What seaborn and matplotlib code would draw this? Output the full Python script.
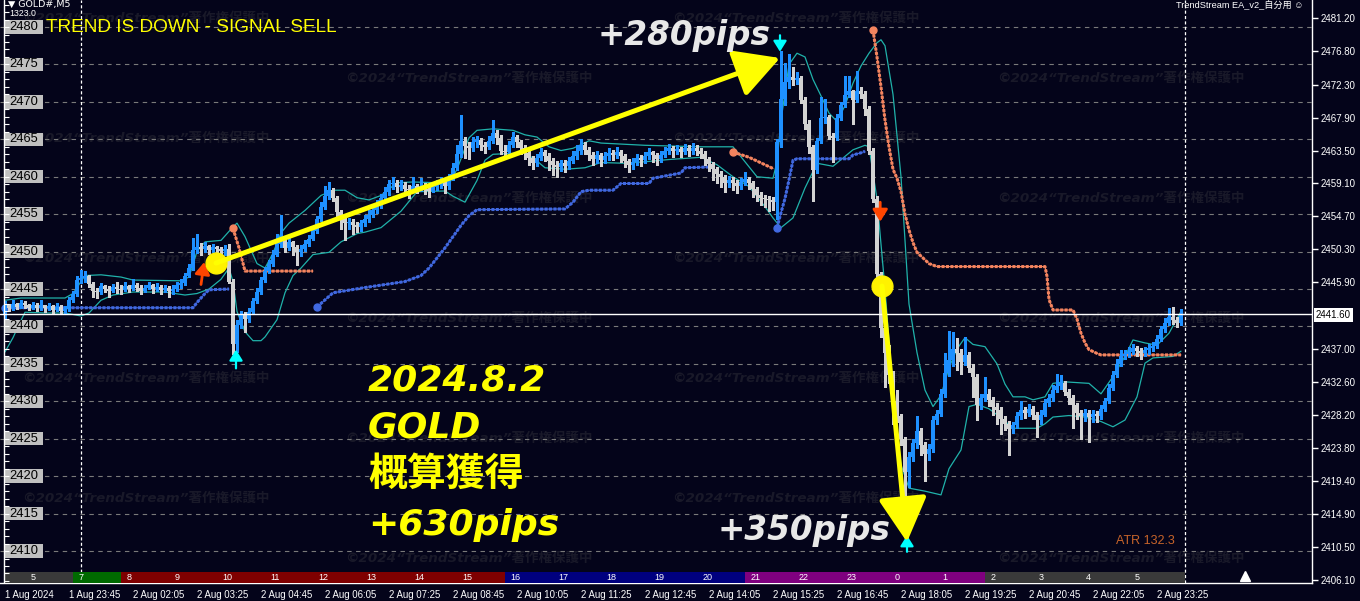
# MT4-style GOLD M5 chart with TrendStream signals
import numpy as np
import pandas as pd
import matplotlib
matplotlib.use("Agg")
import matplotlib.pyplot as plt
import matplotlib.transforms as mtransforms
from matplotlib.patches import Rectangle
import seaborn as sns

sns.set_style("dark")
plt.rcParams["font.family"] = ["DejaVu Sans", "Noto Sans CJK JP"]

BG = "#04041a"
BLUE = "#1e90ff"
GREY = "#d3d3d3"
TEAL = "#20b2aa"
ROYAL = "#4169e1"
SALMON = "#f4845f"
YELLOW = "#ffff00"
CJK = ["Noto Sans CJK JP", "DejaVu Sans"]
LIB = ["Liberation Sans", "Noto Sans CJK JP", "DejaVu Sans"]

# ---- candle data (5 min bars) ----
first_open = 2441.6
closes = [
    2442.8, 2442.4, 2443.0, 2442.6, 2443.1, 2442.8, 2442.5, 2442.9, 2442.4, 2442.8,
    2442.4, 2442.7, 2442.2, 2442.6, 2442.1, 2442.3, 2443.6, 2444.3, 2446.2, 2446.5,
    2446.8, 2445.7, 2444.8, 2444.6, 2445.4, 2445.0, 2444.8, 2445.3, 2445.0, 2444.9,
    2445.4, 2445.0, 2445.6, 2445.2, 2444.8, 2445.2, 2445.6, 2445.0, 2445.3, 2444.9,
    2445.1, 2444.8, 2445.0, 2445.5, 2445.8, 2446.8, 2447.8, 2450.2, 2450.6, 2450.3,
    2450.7, 2450.2, 2450.6, 2450.3, 2450.1, 2450.4, 2446.0, 2437.6, 2440.2, 2441.6,
    2441.0, 2441.9, 2443.4, 2444.6, 2446.2, 2447.4, 2448.4, 2449.6, 2451.0, 2451.4,
    2450.5, 2451.3, 2450.6, 2449.9, 2450.4, 2451.0, 2451.7, 2452.7, 2454.3, 2456.0,
    2457.4, 2458.2, 2457.2, 2455.3, 2454.4, 2453.8, 2454.0, 2453.6, 2453.3, 2453.8,
    2454.4, 2454.9, 2455.5, 2456.2, 2457.1, 2458.0, 2459.0, 2459.2, 2458.6, 2458.9,
    2458.4, 2458.2, 2458.7, 2458.3, 2458.8, 2458.4, 2458.1, 2458.6, 2458.9, 2459.2,
    2458.7, 2459.8, 2461.2, 2463.0, 2464.8, 2464.1, 2463.8, 2464.6, 2464.9, 2464.2,
    2464.0, 2464.8, 2465.8, 2465.2, 2463.5, 2463.3, 2464.3, 2465.3, 2464.6, 2463.8,
    2463.2, 2462.5, 2461.9, 2462.5, 2463.3, 2462.8, 2462.1, 2461.6, 2461.3, 2461.8,
    2461.5, 2462.1, 2462.8, 2463.5, 2464.2, 2463.6, 2462.9, 2462.4, 2462.9, 2462.3,
    2462.8, 2463.2, 2462.9, 2463.3, 2462.8, 2462.1, 2461.6, 2462.0, 2462.5, 2462.2,
    2462.8, 2463.3, 2462.9, 2462.4, 2462.9, 2463.4, 2463.8, 2463.4, 2463.7, 2463.3,
    2463.8, 2463.4, 2463.9, 2463.5, 2463.1, 2462.4, 2461.7, 2461.0, 2460.4, 2459.9,
    2459.2, 2459.6, 2459.1, 2458.8, 2459.3, 2459.7, 2459.2, 2458.3, 2457.6, 2457.1,
    2457.0, 2456.9, 2456.6, 2464.6, 2470.4, 2472.6, 2473.3, 2472.9, 2473.2, 2470.2,
    2467.1, 2464.0, 2460.9, 2464.8, 2467.8, 2468.0, 2465.4, 2465.2, 2467.9, 2469.6,
    2470.9, 2471.4, 2470.2, 2471.5, 2471.1, 2469.0, 2463.5, 2457.0, 2447.0, 2439.8,
    2436.4, 2433.5, 2430.0, 2428.0, 2425.0, 2420.5, 2422.6, 2424.4, 2426.0, 2424.2,
    2423.0, 2423.6, 2427.5, 2428.3, 2431.0, 2433.8, 2435.5, 2437.0, 2436.5, 2435.3,
    2436.2, 2434.5, 2433.2, 2429.5, 2430.4, 2431.0, 2430.2, 2429.3, 2428.8, 2427.6,
    2427.0, 2426.3, 2426.8, 2428.0, 2428.8, 2428.4, 2429.0, 2428.2, 2427.5, 2428.2,
    2429.8, 2430.4, 2431.5, 2432.0, 2432.4, 2431.3, 2430.4, 2429.5, 2428.4, 2428.0,
    2428.4, 2427.9, 2428.3, 2428.0, 2429.0, 2430.0, 2431.8, 2433.5, 2435.0, 2436.0,
    2436.3, 2436.6, 2437.1, 2436.7, 2436.4, 2436.8, 2437.1, 2437.4, 2438.3, 2439.6,
    2440.5, 2441.2, 2440.8, 2440.5, 2441.6,
]
highs = [
    2443.4, 2443.0, 2443.6, 2443.2, 2443.5, 2443.4, 2443.0, 2443.3, 2443.1, 2443.6,
    2442.9, 2443.1, 2442.9, 2443.2, 2442.8, 2442.7, 2444.0, 2444.8, 2446.8, 2447.6,
    2447.4, 2446.9, 2445.9, 2445.2, 2445.8, 2445.6, 2445.4, 2445.7, 2445.9, 2445.5,
    2445.9, 2445.6, 2446.3, 2445.8, 2445.5, 2445.6, 2446.0, 2445.7, 2445.8, 2445.6,
    2445.6, 2445.4, 2445.5, 2445.9, 2446.3, 2447.2, 2448.3, 2451.8, 2452.4, 2451.2,
    2451.3, 2450.9, 2451.0, 2450.8, 2450.6, 2450.9, 2451.0, 2446.3, 2440.8, 2442.0,
    2441.9, 2442.4, 2443.8, 2445.1, 2446.6, 2447.9, 2448.9, 2450.2, 2452.4, 2454.9,
    2451.8, 2451.9, 2451.4, 2450.9, 2450.9, 2451.5, 2452.2, 2453.2, 2454.8, 2456.6,
    2458.8, 2459.3, 2458.5, 2457.4, 2455.6, 2454.6, 2454.5, 2454.3, 2454.0, 2454.2,
    2454.9, 2455.6, 2456.1, 2456.9, 2457.7, 2458.6, 2459.6, 2460.0, 2459.5, 2459.6,
    2459.3, 2458.9, 2459.9, 2459.0, 2459.8, 2459.1, 2458.8, 2459.2, 2459.5, 2459.9,
    2459.6, 2460.4, 2461.8, 2464.2, 2468.2, 2465.3, 2464.6, 2465.3, 2465.4, 2465.2,
    2464.7, 2465.4, 2467.6, 2466.3, 2465.6, 2464.2, 2464.8, 2466.0, 2465.6, 2464.9,
    2464.3, 2463.4, 2462.8, 2463.0, 2463.8, 2463.6, 2463.2, 2462.5, 2462.1, 2462.3,
    2462.2, 2462.6, 2463.4, 2464.3, 2465.0, 2464.6, 2464.0, 2463.3, 2463.4, 2463.2,
    2463.3, 2463.8, 2463.6, 2464.0, 2463.6, 2463.0, 2462.4, 2462.5, 2463.0, 2462.9,
    2463.3, 2463.8, 2463.5, 2463.2, 2463.5, 2464.0, 2464.4, 2464.1, 2464.3, 2464.0,
    2464.4, 2464.2, 2464.5, 2464.2, 2463.9, 2463.4, 2462.6, 2462.0, 2461.3, 2460.8,
    2460.2, 2460.1, 2459.9, 2459.6, 2459.8, 2460.6, 2460.0, 2459.4, 2458.6, 2458.0,
    2457.5, 2457.4, 2457.3, 2465.0, 2476.8, 2475.2, 2476.4, 2474.6, 2474.0, 2473.4,
    2470.6, 2467.6, 2464.3, 2465.2, 2470.7, 2470.4, 2468.2, 2465.9, 2468.4, 2470.0,
    2473.4, 2473.4, 2471.6, 2474.1, 2472.0, 2471.5, 2469.4, 2463.8, 2457.4, 2447.3,
    2440.5, 2437.5, 2434.0, 2431.5, 2428.3, 2425.3, 2423.2, 2425.0, 2428.0, 2426.4,
    2424.6, 2424.3, 2428.0, 2428.9, 2431.6, 2436.5, 2439.4, 2439.2, 2438.5, 2437.0,
    2438.6, 2436.6, 2435.0, 2433.6, 2431.0, 2433.2, 2431.6, 2430.6, 2429.8, 2429.2,
    2428.1, 2427.4, 2427.3, 2428.6, 2430.0, 2429.3, 2429.6, 2429.4, 2428.6, 2428.8,
    2430.3, 2431.0, 2432.2, 2433.6, 2433.5, 2432.7, 2431.7, 2430.9, 2429.8, 2428.9,
    2429.0, 2428.8, 2428.9, 2428.7, 2429.5, 2430.5, 2432.3, 2434.0, 2435.6, 2436.8,
    2436.9, 2437.2, 2437.6, 2437.4, 2437.1, 2437.3, 2437.6, 2437.9, 2438.8, 2440.1,
    2441.1, 2442.4, 2442.6, 2441.3, 2442.3,
]
lows = [
    2440.9, 2442.0, 2442.2, 2442.3, 2442.4, 2442.5, 2442.2, 2442.3, 2442.1, 2442.2,
    2441.9, 2442.2, 2441.8, 2442.0, 2441.6, 2441.8, 2442.1, 2443.3, 2444.1, 2445.8,
    2446.0, 2445.3, 2443.9, 2443.8, 2444.4, 2444.6, 2444.0, 2444.6, 2444.5, 2444.3,
    2444.7, 2444.6, 2444.9, 2444.8, 2444.3, 2444.6, 2445.0, 2444.5, 2444.7, 2444.4,
    2444.6, 2444.0, 2444.4, 2444.8, 2445.2, 2445.6, 2446.6, 2447.5, 2449.8, 2449.6,
    2450.0, 2449.7, 2449.9, 2449.8, 2449.6, 2449.5, 2445.8, 2436.3, 2436.6, 2439.8,
    2439.2, 2440.6, 2441.6, 2443.2, 2444.3, 2446.0, 2447.2, 2448.1, 2449.4, 2450.6,
    2450.0, 2450.2, 2449.6, 2448.2, 2449.4, 2450.1, 2450.8, 2451.5, 2452.5, 2454.1,
    2455.7, 2457.0, 2456.8, 2454.8, 2453.0, 2451.5, 2453.0, 2452.3, 2452.6, 2452.8,
    2453.4, 2454.0, 2454.6, 2455.1, 2455.8, 2456.7, 2457.6, 2458.4, 2458.0, 2458.2,
    2457.6, 2457.2, 2458.0, 2457.8, 2458.1, 2457.7, 2457.3, 2457.9, 2458.2, 2458.5,
    2457.8, 2458.4, 2459.6, 2460.9, 2462.6, 2462.5, 2462.4, 2463.4, 2464.0, 2463.6,
    2463.2, 2463.7, 2464.5, 2464.4, 2463.0, 2462.6, 2463.0, 2464.0, 2464.0, 2463.0,
    2462.4, 2461.6, 2461.0, 2461.4, 2462.2, 2462.1, 2460.9, 2460.2, 2459.9, 2460.8,
    2460.6, 2461.0, 2461.8, 2462.4, 2463.1, 2463.0, 2462.3, 2461.6, 2461.9, 2461.5,
    2461.8, 2462.3, 2462.2, 2462.5, 2462.0, 2461.3, 2460.7, 2461.0, 2461.6, 2461.4,
    2461.8, 2462.4, 2462.0, 2461.6, 2462.0, 2462.6, 2463.0, 2462.7, 2463.0, 2462.7,
    2463.0, 2462.8, 2463.1, 2462.9, 2462.5, 2461.6, 2460.8, 2459.6, 2459.2, 2458.6,
    2458.0, 2458.6, 2458.2, 2457.8, 2458.3, 2458.9, 2458.4, 2457.3, 2456.8, 2456.2,
    2455.9, 2455.4, 2455.6, 2454.3, 2464.0, 2469.6, 2471.8, 2472.2, 2472.4, 2469.8,
    2466.4, 2463.2, 2456.8, 2460.5, 2464.5, 2467.2, 2465.0, 2462.0, 2464.9, 2467.6,
    2469.3, 2470.6, 2467.0, 2470.0, 2470.5, 2468.3, 2463.0, 2456.6, 2446.5, 2438.6,
    2431.9, 2432.5, 2427.0, 2427.3, 2424.2, 2415.5, 2418.6, 2422.0, 2423.8, 2422.8,
    2419.4, 2422.2, 2423.2, 2427.0, 2428.0, 2430.6, 2433.4, 2434.7, 2434.2, 2433.6,
    2434.8, 2433.9, 2430.6, 2427.5, 2429.0, 2430.1, 2429.4, 2428.2, 2427.0, 2425.6,
    2426.2, 2422.8, 2425.8, 2426.5, 2427.6, 2427.8, 2428.0, 2427.6, 2425.3, 2427.0,
    2428.0, 2429.4, 2430.1, 2431.2, 2431.6, 2430.8, 2429.7, 2426.5, 2427.7, 2425.0,
    2427.4, 2424.6, 2427.3, 2427.2, 2427.7, 2428.7, 2429.8, 2431.5, 2433.2, 2434.7,
    2435.6, 2435.9, 2436.3, 2436.0, 2435.7, 2436.0, 2436.3, 2436.7, 2437.1, 2438.0,
    2439.3, 2440.2, 2440.3, 2439.9, 2440.2,
]

# ---- indicator lines: (bar, price) vertices ----
upper_band = [
    (0, 2443.5), (4, 2443.8), (15, 2443.8), (17, 2444.4), (20, 2446.8), (24, 2446.9),
    (29, 2446.6), (32, 2446.2), (44, 2446.1), (46, 2446.6), (48, 2450.0), (50, 2451.3),
    (54, 2451.5), (57, 2453.3), (58, 2453.8), (60, 2452.0), (63, 2448.4), (65, 2447.8),
    (67, 2449.8), (69, 2452.5), (71, 2453.8), (75, 2455.5), (79, 2457.5), (82, 2458.2),
    (85, 2458.2), (88, 2457.2), (91, 2456.9), (94, 2457.5), (98, 2459.2), (102, 2459.3),
    (108, 2459.2), (111, 2459.0), (113, 2461.0), (116, 2465.2), (118, 2466.2), (122, 2466.4),
    (127, 2466.2), (130, 2465.6), (133, 2465.3), (136, 2464.0), (139, 2463.5), (142, 2463.8),
    (146, 2464.8), (149, 2464.5), (160, 2464.2), (174, 2464.0), (182, 2464.0), (185, 2462.0),
    (188, 2460.0), (192, 2459.8), (193, 2462.0), (194, 2467.5), (196, 2475.0), (198, 2476.5),
    (200, 2476.0), (202, 2473.0), (204, 2470.8), (206, 2468.5), (208, 2467.4), (210, 2469.5),
    (212, 2472.5), (214, 2474.8), (216, 2476.5), (218, 2477.9), (219, 2478.3), (220, 2477.5),
    (222, 2471.0), (224, 2460.0), (226, 2443.0), (228, 2436.5), (230, 2431.5), (232, 2429.3),
    (234, 2430.8), (236, 2434.5), (238, 2437.0), (240, 2438.5), (242, 2437.6), (245, 2437.3),
    (248, 2435.0), (250, 2432.3), (252, 2430.6), (255, 2430.6), (257, 2430.2), (260, 2430.6),
    (262, 2432.4), (265, 2432.6), (271, 2432.4), (274, 2431.0), (277, 2433.3), (280, 2436.0),
    (282, 2438.2), (285, 2437.8), (288, 2437.5), (291, 2439.1), (294, 2442.0),
]
lower_band = [
    (0, 2436.6), (2, 2438.5), (4, 2440.8), (5, 2441.9), (10, 2441.8), (15, 2441.8),
    (19, 2441.4), (21, 2441.8), (24, 2443.5), (27, 2444.2), (32, 2444.6), (40, 2444.6),
    (45, 2444.2), (48, 2444.4), (51, 2445.0), (54, 2446.3), (56, 2447.8), (57, 2446.0),
    (58, 2442.0), (60, 2439.3), (62, 2438.1), (64, 2438.1), (65, 2438.6), (68, 2440.9),
    (70, 2444.5), (72, 2446.8), (74, 2447.8), (77, 2449.6), (81, 2449.9), (84, 2451.3),
    (88, 2452.4), (90, 2452.6), (94, 2453.2), (99, 2455.4), (103, 2458.0), (110, 2458.1),
    (112, 2457.4), (115, 2456.6), (118, 2459.5), (120, 2462.2), (122, 2463.0), (130, 2463.2),
    (133, 2462.1), (135, 2461.2), (140, 2461.0), (145, 2461.2), (149, 2461.9), (155, 2461.8),
    (160, 2462.0), (166, 2462.3), (174, 2462.6), (178, 2461.6), (182, 2460.0), (186, 2458.7),
    (190, 2456.0), (192, 2454.5), (194, 2453.2), (197, 2454.5), (200, 2458.5), (203, 2461.8),
    (207, 2461.4), (212, 2463.6), (215, 2464.2), (216, 2464.0), (218, 2457.0), (220, 2445.0),
    (222, 2431.0), (224, 2421.5), (226, 2418.4), (230, 2418.0), (234, 2417.5), (236, 2421.0),
    (239, 2423.5), (241, 2429.3), (243, 2429.6), (246, 2429.0), (249, 2427.8), (252, 2426.4),
    (258, 2426.4), (260, 2427.0), (262, 2427.9), (266, 2428.1), (270, 2427.9), (274, 2427.3),
    (277, 2426.6), (280, 2427.5), (283, 2430.6), (285, 2435.1), (287, 2435.8), (292, 2436.0),
    (294, 2436.7),
]
blue_stops = [
    [(0, 2442.5), (47, 2442.5), (48, 2443.2), (50, 2444.4), (51, 2444.9), (56, 2445.0)],
    [(78, 2442.6), (82, 2444.5), (90, 2445.2), (100, 2446.0), (104, 2446.8), (106, 2447.8),
     (110, 2450.5), (114, 2453.5), (116, 2454.8), (118, 2455.6), (140, 2455.7), (142, 2456.6),
     (144, 2458.0), (146, 2458.2), (152, 2458.2), (154, 2459.1), (161, 2459.1), (162, 2459.8),
     (169, 2460.5), (170, 2461.2), (176, 2461.3)],
    [(193, 2453.2), (194, 2455.2), (195, 2457.1), (196, 2459.6), (197, 2462.2), (198, 2462.4),
     (211, 2462.4), (212, 2462.9), (214, 2463.2), (215, 2463.4)],
]
salmon_stops = [
    [(57, 2453.1), (58.5, 2450.5), (60, 2447.4), (77, 2447.4)],
    [(182, 2463.3), (186, 2462.6), (190, 2461.6), (192, 2461.1)],
    [(217, 2479.6), (218, 2476.0), (219, 2472.0), (220, 2467.6), (221, 2464.0), (222, 2461.0),
     (223, 2459.8), (224, 2458.0), (225, 2455.0), (226, 2452.9), (227, 2451.2), (228, 2449.9),
     (230, 2448.9), (231, 2448.4), (233, 2448.0), (260, 2448.0), (260.5, 2446.7), (261, 2443.6),
     (262, 2442.2), (267, 2442.2), (268, 2441.0), (269, 2439.1), (270, 2437.8), (271, 2436.9),
     (273, 2436.4), (274, 2436.2), (294, 2436.2)],
]

# ---- axis texts ----
time_ticks = list(range(0, 289, 16))
time_labels = ["1 Aug 2024", "1 Aug 23:45", "2 Aug 02:05", "2 Aug 03:25", "2 Aug 04:45",
               "2 Aug 06:05", "2 Aug 07:25", "2 Aug 08:45", "2 Aug 10:05", "2 Aug 11:25",
               "2 Aug 12:45", "2 Aug 14:05", "2 Aug 15:25", "2 Aug 16:45", "2 Aug 18:05",
               "2 Aug 19:25", "2 Aug 20:45", "2 Aug 22:05", "2 Aug 23:25"]
hour_labels = ["5", "7", "8", "9", "10", "11", "12", "13", "14", "15", "16", "17", "18",
               "19", "20", "21", "22", "23", "0", "1", "2", "3", "4", "5"]
hour_edges = [-0.1, 17, 29, 41, 53, 65, 77, 89, 101, 113, 125, 137, 149, 161, 173, 185,
              197, 209, 221, 233, 245, 257, 269, 281, 295]
hour_colors = (["#3a3a3a", "#006a00"] + ["#7f0000"] * 8 + ["#00007f"] * 5
               + ["#7f007f"] * 5 + ["#3a3a3a"] * 4)
left_levels = [2410, 2415, 2420, 2425, 2430, 2435, 2440, 2445, 2450, 2455, 2460, 2465,
               2470, 2475, 2480]
right_ticks = [2481.2, 2476.8, 2472.3, 2467.9, 2463.5, 2459.1, 2454.7, 2450.3, 2445.9,
               2437.0, 2432.6, 2428.2, 2423.8, 2419.4, 2414.9, 2410.5, 2406.1]
bid = 2441.60

# ---- figure ----
W, H = 1360, 601
fig = plt.figure(figsize=(W / 100, H / 100), dpi=100)
fig.patch.set_facecolor(BG)
ax = fig.add_axes([0, 18 / H, 1312 / W, 583 / H])
ax.set_facecolor(BG)
ylo, yhi = 2405.73, 2483.61
ax.set_xlim(-1.25, 326.75)
ax.set_ylim(ylo, yhi)


def fx(px):
    return px / W


def fy(py):
    return 1 - py / H


# watermark
wm = "©2024“TrendStream”著作権保護中"
for k in range(10):
    ypx = 18 + 60 * k
    xs = [22, 672] if k % 2 == 0 else [345, 997]
    for xpx in xs:
        ax.text(fx(xpx), fy(ypx), wm, transform=fig.transFigure, clip_on=False,
                color="#191929", fontsize=9.7, fontweight="bold", style="italic",
                family=["DejaVu Sans", "Noto Sans CJK JP"], va="center", ha="left", zorder=0.5)

# grid levels
for lv in left_levels:
    ax.axhline(lv, color="#7a7a7a", lw=0.8, ls=(0, (4, 4)), zorder=1)
for b in (19, 295):
    ax.axvline(b, color="white", lw=0.9, ls=(0, (2.5, 1.8)), zorder=2)

# bands
for pts in (upper_band, lower_band):
    df = pd.DataFrame(pts, columns=["bar", "price"])
    sns.lineplot(data=df, x="bar", y="price", ax=ax, color=TEAL, linewidth=0.9,
                 estimator=None, sort=False, zorder=3)

# trailing stops
def stop_line(pts, color):
    df = pd.DataFrame(pts, columns=["bar", "price"])
    sns.lineplot(data=df, x="bar", y="price", ax=ax, color=color, linewidth=0.8,
                 estimator=None, sort=False, zorder=3)
    ax.plot(df["bar"], df["price"], color=color, lw=2.2, ls=(0, (1, 0.45)), zorder=3)
    ax.plot(df["bar"].iloc[0], df["price"].iloc[0], "o", ms=5, color=color, zorder=3)


for pts in blue_stops:
    stop_line(pts, ROYAL)
for pts in salmon_stops:
    stop_line(pts, SALMON)

# candles
n = min(len(closes), len(highs), len(lows))
c = np.array(closes[:n])
o = np.r_[first_open, c[:-1]]
hi = np.array(highs[:n])
lo = np.array(lows[:n])
idx = np.arange(n)
cols = np.where(c >= o, BLUE, GREY)
ax.vlines(idx, lo, hi, colors=cols, lw=1, zorder=4, antialiased=False)
ax.bar(idx, np.maximum(np.abs(c - o), 0.14), bottom=np.minimum(o, c), width=0.8,
       color=cols, linewidth=0, zorder=5, antialiased=False)

# bid line
ax.axhline(bid, color="white", lw=1, zorder=6)

# left price labels and ruler
for lv in left_levels:
    ax.add_patch(Rectangle((0.12, lv - 0.9), 9.3, 1.8, fc="#c0c0c0", ec="none", zorder=8))
    ax.text(1.0, lv, str(lv), color="black", fontsize=9.3, family=LIB, va="center",
            ha="left", zorder=9)
ax.axvline(-0.25, color="white", lw=1, zorder=9)
ax.hlines(np.arange(2406, 2484), -0.25, 0.9, color="white", lw=0.8, zorder=9)

# hour band
band_hi = ylo + 11 / 7.486
for i, lab in enumerate(hour_labels):
    a, b = hour_edges[i], hour_edges[i + 1]
    ax.add_patch(Rectangle((a, ylo), b - a, band_hi - ylo, fc=hour_colors[i], ec="none",
                           zorder=7))
    tx = 6.5 if i == 0 else a + 1.3
    ax.text(tx, (ylo + band_hi) / 2, lab, color="white", fontsize=6.5, family=LIB,
            va="center", ha="left", zorder=8)

# signal arrows
def arrow(tail, tip, color, lw, scale, hl, hw, z=10):
    ax.annotate("", xy=tip, xytext=tail,
                arrowprops=dict(arrowstyle=f"-|>,head_length={hl},head_width={hw}",
                                color=color, lw=lw, shrinkA=0, shrinkB=0,
                                mutation_scale=scale), zorder=z)


arrow((193.75, 2478.9), (193.75, 2476.7), "#00ffff", 1.6, 8, 0.8, 0.5)
arrow((57.75, 2434.4), (57.75, 2436.9), "#00ffff", 1.6, 8, 0.8, 0.5)
arrow((225.5, 2409.9), (225.5, 2412.1), "#00ffff", 1.6, 8, 0.8, 0.5)
arrow((49.0, 2445.6), (49.8, 2448.6), "#ff4500", 2.0, 9, 0.8, 0.5)
arrow((218.8, 2456.6), (218.8, 2454.0), "#ff4500", 2.0, 9, 0.8, 0.5)

# big yellow trade arrows
ax.plot([52.75, 219.25], [2448.47, 2445.40], "o", ms=15, color="#fff200", zorder=11)
arrow((52.75, 2448.47), (193.75, 2475.86), YELLOW, 3.6, 25, 1.1, 0.6, z=11)
arrow((219.25, 2445.40), (225.5, 2411.2), YELLOW, 3.6, 25, 1.1, 0.6, z=11)

# annotations
ax.text(148.25, 2477.6, "+280pips", color="#e8e8e8", fontsize=23.5, fontweight="bold",
        style="italic", va="baseline", ha="left", zorder=12)
ax.text(178.25, 2411.5, "+350pips", color="#e8e8e8", fontsize=23.5, fontweight="bold",
        style="italic", va="baseline", ha="left", zorder=12)
ax.text(90.75, 2431.5, "2024.8.2", color=YELLOW, fontsize=26, fontweight="bold",
        style="italic", va="baseline", ha="left", zorder=12)
ax.text(90.75, 2425.1, "GOLD", color=YELLOW, fontsize=26, fontweight="bold",
        style="italic", va="baseline", ha="left", zorder=12)
ax.text(90.75, 2418.7, "概算獲得", color=YELLOW, fontsize=28, fontweight="bold",
        family=CJK, va="baseline", ha="left", zorder=12)
ax.text(90.75, 2412.1, "+630pips", color=YELLOW, fontsize=26, fontweight="bold",
        style="italic", va="baseline", ha="left", zorder=12)
ax.text(292.5, 2411.3, "ATR 132.3", color="#c8642a", fontsize=9, family=LIB,
        va="center", ha="right", zorder=12)

fig.text(fx(46), fy(27), "TREND IS DOWN - SIGNAL SELL", color=YELLOW, fontsize=13.7,
         family=LIB, va="center", ha="left")
fig.text(fx(8), fy(4), "▼ GOLD#,M5", color="white", fontsize=6.8, va="center", ha="left")
fig.text(fx(9), fy(14), "1323.0", color="white", fontsize=6.3, family=LIB, va="center",
         ha="left")
fig.text(fx(1176), fy(4), "TrendStream EA_v2_自分用 ☺", color="white", fontsize=6.6,
         family=LIB, va="center", ha="left")
fig.text(fx(1316), fy(315), f"{bid:.2f}", color="black", fontsize=7, family=LIB,
         va="center", ha="left", bbox=dict(boxstyle="square,pad=0.2", fc="white", ec="none"))

# chart shift marker
ax.plot([310], [0.012], marker="^", ms=7, color="white",
        transform=mtransforms.blended_transform_factory(ax.transData, ax.transAxes),
        clip_on=False, zorder=12)

# axes styling
ax.set_xlabel("")
ax.set_ylabel("")
for s in ("top", "left"):
    ax.spines[s].set_visible(False)
for s in ("right", "bottom"):
    ax.spines[s].set_color("white")
    ax.spines[s].set_linewidth(1)
ax.yaxis.tick_right()
ax.set_yticks(right_ticks)
ax.set_yticklabels([f"{v:.2f}" for v in right_ticks])
ax.set_xticks(time_ticks)
ax.set_xticklabels(time_labels)
ax.tick_params(axis="y", colors="white", length=4, width=1, pad=2, labelsize=7)
ax.tick_params(axis="x", colors="white", length=4, width=1, pad=1, labelsize=6.9)
for t in ax.get_xticklabels():
    t.set_ha("left")
    t.set_family(LIB)
for t in ax.get_yticklabels():
    t.set_family(LIB)
ax.grid(False)

fig.savefig("out.png", dpi=100, facecolor=BG)
